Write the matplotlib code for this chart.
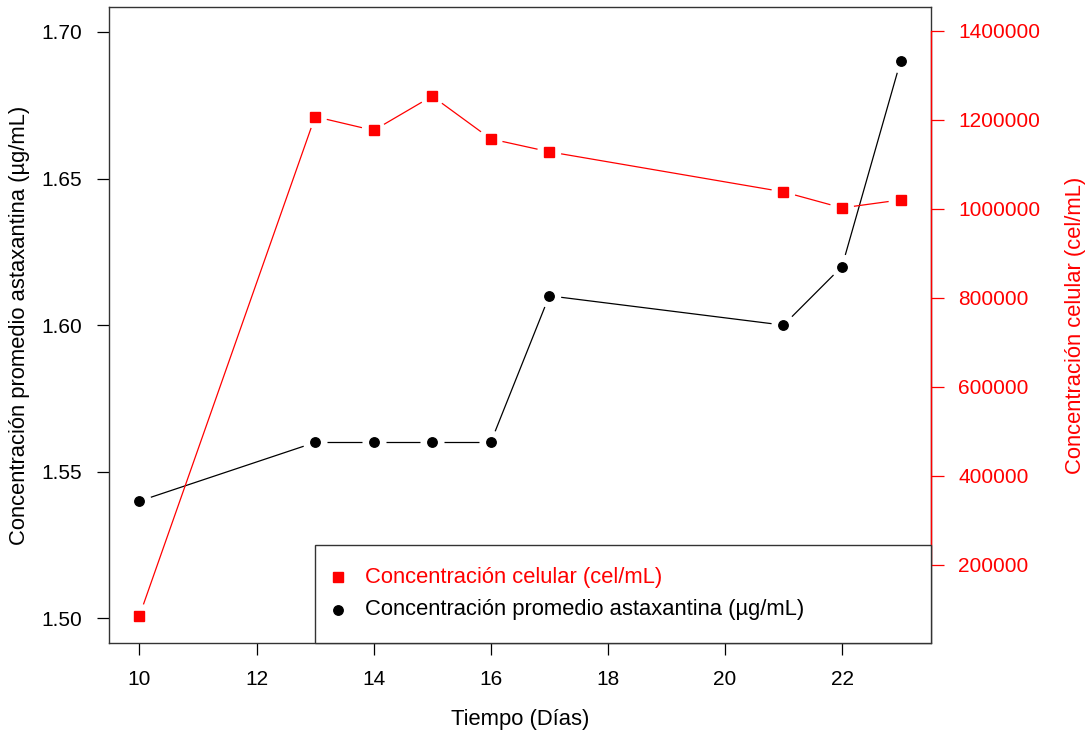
import numpy as np
import matplotlib
matplotlib.use("Agg")
import matplotlib.pyplot as plt
from matplotlib.patches import Rectangle

plt.rcParams['font.family'] = ['Liberation Sans', 'DejaVu Sans']

# Data
dias = [10, 13, 14, 15, 16, 17, 21, 22, 23]
astaxantina = [1.54, 1.56, 1.56, 1.56, 1.56, 1.61, 1.60, 1.62, 1.69]
celulas = [86000, 1207000, 1176000, 1253000, 1157000, 1128000, 1038000, 1002000, 1020000]

x_ticks = [10, 12, 14, 16, 18, 20, 22]
left_ticks = [1.50, 1.55, 1.60, 1.65, 1.70]
right_ticks = [200000, 400000, 600000, 800000, 1000000, 1200000, 1400000]

label_x = "Tiempo (Días)"
label_left = "Concentración promedio astaxantina (µg/mL)"
label_right = "Concentración celular (cel/mL)"
leyenda = ["Concentración celular (cel/mL)", "Concentración promedio astaxantina (µg/mL)"]

ROJO = "#FF0000"
W, H = 1091, 738
FS = 15
FS_TXT = 15.8

fig = plt.figure(figsize=(W / 100, H / 100), dpi=100)
ax = fig.add_axes([109 / W, (H - 643) / H, 822 / W, 636 / H])
ax2 = ax.twinx()

ax.set_xlim(9.48, 23.52)
ax.set_ylim(1.4916, 1.7085)
ax2.set_ylim(24800, 1453200)


def gapped_line(axis, xs, ys, color, gap=12, lw=0.9):
    """Draw connecting segments that stop short of each point (like R type='b')."""
    tr = axis.transData
    inv = tr.inverted()
    pts = tr.transform(np.column_stack([xs, ys]))
    for p0, p1 in zip(pts[:-1], pts[1:]):
        d = p1 - p0
        n = np.hypot(*d)
        if n <= 2 * gap:
            continue
        u = d / n
        a = inv.transform(p0 + u * gap)
        b = inv.transform(p1 - u * gap)
        axis.plot([a[0], b[0]], [a[1], b[1]], color=color, lw=lw,
                  solid_capstyle='butt')


# Astaxanthin series (left axis)
gapped_line(ax, dias, astaxantina, "black")
ax.plot(dias, astaxantina, linestyle='none', marker='o', ms=6.8,
        color='black', mec='black')

# Cell concentration series (right axis)
gapped_line(ax2, dias, celulas, ROJO)
ax2.plot(dias, celulas, linestyle='none', marker='s', ms=6.8,
         color=ROJO, mec=ROJO)

# Axes styling
for s in ax.spines.values():
    s.set_color('#333333')
    s.set_linewidth(1.0)
for name in ['left', 'top', 'bottom']:
    ax2.spines[name].set_visible(False)
ax2.spines['right'].set_color(ROJO)
ax2.spines['right'].set_linewidth(1.0)
ax2.spines['right'].set_bounds(right_ticks[0], right_ticks[-1])

ax.set_xticks(x_ticks)
ax.set_xticklabels([str(v) for v in x_ticks])
ax.set_yticks(left_ticks)
ax.set_yticklabels([f"{v:.2f}" for v in left_ticks])
ax2.set_yticks(right_ticks)
ax2.set_yticklabels([str(v) for v in right_ticks])

ax.tick_params(axis='both', direction='out', length=8.8, width=0.9,
               pad=10.5, labelsize=FS, colors='black')
ax2.tick_params(axis='y', direction='out', length=9.5, width=0.9,
                pad=10, labelsize=FS, colors=ROJO)

# Axis titles
ax.text((20 - 109) / 822, 0.5, label_left, transform=ax.transAxes,
        rotation=90, ha='center', va='center', fontsize=FS_TXT, color='black')
ax.text((1076 - 109) / 822, 0.5, label_right, transform=ax.transAxes,
        rotation=90, ha='center', va='center', fontsize=FS_TXT, color=ROJO)
ax.text((520 - 109) / 822, (643 - 719) / 636, label_x, transform=ax.transAxes,
        ha='center', va='center', fontsize=FS_TXT, color='black')

# Legend box (bottom right)
def ax_xy(px, py):
    return (px - 109) / 822, (643 - py) / 636

x0, y0 = ax_xy(315, 643)
x1, y1 = ax_xy(931, 545)
ax2.add_patch(Rectangle((x0, y0), x1 - x0, y1 - y0, transform=ax2.transAxes,
                        facecolor='white', edgecolor='#333333', lw=1.0,
                        zorder=10, clip_on=False))
for (py, mk, col, txt) in [(577, 's', ROJO, leyenda[0]),
                           (610, 'o', 'black', leyenda[1])]:
    mx, my = ax_xy(338, py)
    ax2.plot([mx], [my], marker=mk, ms=6.8, color=col, mec=col,
             linestyle='none', transform=ax2.transAxes, zorder=11,
             clip_on=False)
    tx, ty = ax_xy(365, py)
    ax2.text(tx, ty, txt, transform=ax2.transAxes, ha='left', va='center',
             fontsize=FS_TXT, color=col, zorder=12)

fig.savefig("out.png", dpi=100)
